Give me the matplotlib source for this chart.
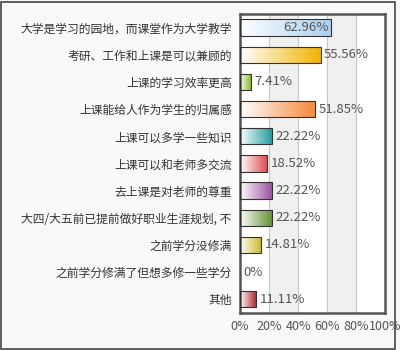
import numpy as np
import matplotlib
matplotlib.use("Agg")
import matplotlib.pyplot as plt
from matplotlib.colors import LinearSegmentedColormap
from matplotlib.patches import Rectangle

plt.rcParams['font.family'] = ['Noto Sans CJK SC', 'DejaVu Sans']

categories = ["大学是学习的园地，而课堂作为大学教学", "考研、工作和上课是可以兼顾的",
              "上课的学习效率更高", "上课能给人作为学生的归属感", "上课可以多学一些知识",
              "上课可以和老师多交流", "去上课是对老师的尊重",
              "大四/大五前已提前做好职业生涯规划, 不", "之前学分没修满",
              "之前学分修满了但想多修一些学分", "其他"]
values = [62.96, 55.56, 7.41, 51.85, 22.22, 18.52, 22.22, 22.22, 14.81, 0, 11.11]
colors = ["#a9cff0", "#f0b400", "#8cba24", "#f5883a", "#1c9a9c", "#de4f55",
          "#9a4c9c", "#5f8e2c", "#c8b82a", "#cccccc", "#b01e28"]
xticks = [0, 20, 40, 60, 80, 100]
xticklabels = ["0%", "20%", "40%", "60%", "80%", "100%"]

fig = plt.figure(figsize=(4, 3.5), dpi=100, facecolor="#f9f9f9")
fig.patches.append(Rectangle((0.002, 0.004), 0.986, 0.99, transform=fig.transFigure,
                             fill=False, edgecolor="#444444", lw=1.2))
ax = fig.add_axes([0.6, 0.106, 0.3625, 0.854])
ax.set_facecolor("white")
ax.set_xlim(0, 100)
ax.set_ylim(len(categories) - 0.5, -0.5)

# alternating bands + grid
for i in range(len(xticks) - 1):
    if i % 2 == 1:
        ax.axvspan(xticks[i], xticks[i + 1], color="#f0f0f0", zorder=0)
for t in xticks[1:-1]:
    ax.axvline(t, color="#c8c8c8", lw=0.8, zorder=0.5)

h = 0.6
grad = np.linspace(0, 1, 256).reshape(1, -1)
for i, (v, c) in enumerate(zip(values, colors)):
    if v > 0:
        cmap = LinearSegmentedColormap.from_list("g", ["white", c])
        im = ax.imshow(grad, cmap=cmap, aspect="auto", extent=(0, v, i + h / 2, i - h / 2),
                       zorder=2)
        r = Rectangle((0, i - h / 2), v, h, fill=False, edgecolor="#333333", lw=0.8, zorder=3)
        ax.add_patch(r)
        im.set_clip_path(r)
    if v > 60:
        ax.text(v - 2, i, "%.2f%%" % v, ha="right", va="center", fontsize=9.5,
                color="#555555", zorder=4)
    else:
        ax.text(v + 2.5, i, ("%.2f%%" % v) if v else "0%", ha="left", va="center",
                fontsize=9.5, color="#555555", zorder=4)

ax.set_yticks(range(len(categories)))
ax.set_yticklabels(categories, fontsize=8.5, color="#333333")
ax.set_xticks(xticks)
ax.set_xticklabels(xticklabels, fontsize=9, color="#555555")
ax.tick_params(length=0, pad=6)
ax.tick_params(axis="x", pad=5)
for s in ax.spines.values():
    s.set_color("#555555")
    s.set_linewidth(1.8)

fig.savefig("out.png", dpi=100, facecolor=fig.get_facecolor())
